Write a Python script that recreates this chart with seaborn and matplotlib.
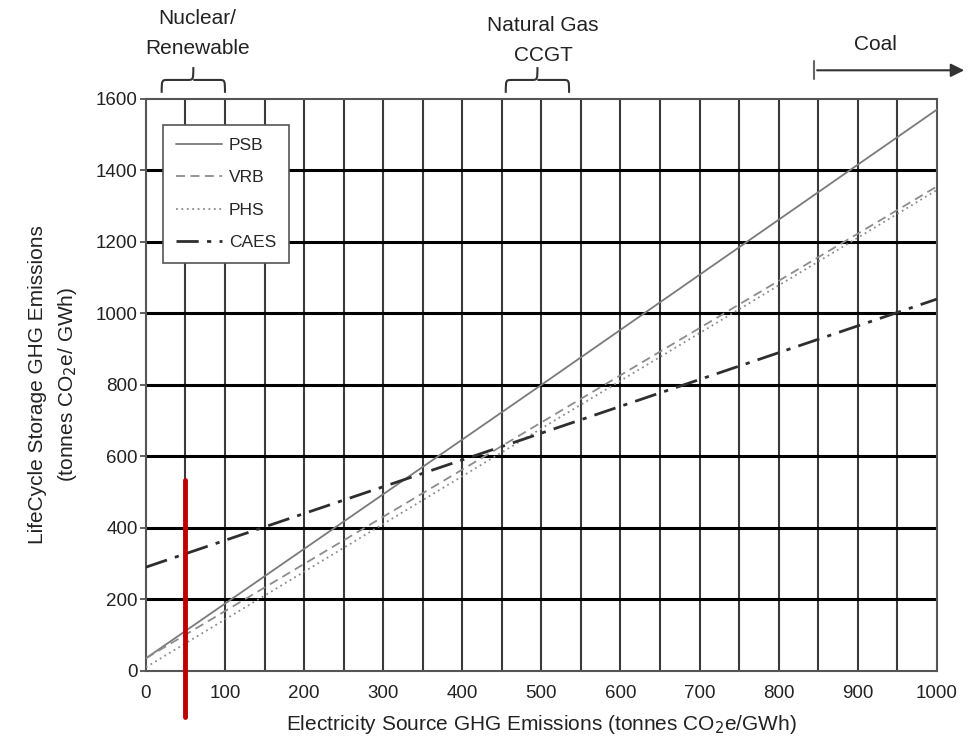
import seaborn as sns
import numpy as np
import matplotlib.pyplot as plt
import pandas as pd
from matplotlib.path import Path
from matplotlib.patches import PathPatch

# values
source_ghg = [0, 500, 1000]
psb = [35, 800, 1570]
vrb = [35, 695, 1355]
phs = [10, 678, 1345]
caes = [290, 665, 1040]
series_names = ["PSB", "VRB", "PHS", "CAES"]

# region markers above the plot
nuclear_span = [20, 100]
gas_span = [455, 535]
coal_start = 845
marker_x = 50
marker_top = 535

df = pd.DataFrame({"source": source_ghg * 4,
                   "storage": psb + vrb + phs + caes,
                   "tech": sum([[n] * len(source_ghg) for n in series_names], [])})

sns.set_style("white")
plt.rcParams['font.family'] = ['Liberation Sans', 'DejaVu Sans']

fig = plt.figure(figsize=(9.79, 7.38), dpi=100)
ax = fig.add_axes([0.149, 0.091, 0.808, 0.775])

colors = {"PSB": "#7a7a7a", "VRB": "#8c8c8c", "PHS": "#8c8c8c", "CAES": "#2e2e2e"}
dashes = {"PSB": "", "VRB": (5, 3), "PHS": (1, 2), "CAES": (8, 3, 1.5, 3)}
widths = {"PSB": 1.3, "VRB": 1.3, "PHS": 1.3, "CAES": 2.0}

for name in series_names:
    sub = df[df.tech == name]
    sns.lineplot(data=sub, x="source", y="storage", ax=ax, color=colors[name],
                 lw=widths[name], dashes=False, label=name, zorder=3)
    ln = ax.lines[-1]
    if dashes[name]:
        ln.set_dashes(dashes[name])

ax.set_xlim(0, 1000)
ax.set_ylim(0, 1600)
ax.set_xticks(range(0, 1001, 100))
ax.set_yticks(range(0, 1601, 200))
for x in range(50, 1000, 50):
    ax.axvline(x, color="#3a3a3a", lw=1.5, zorder=1)
for y in range(200, 1600, 200):
    ax.axhline(y, color="black", lw=2.2, zorder=1)
for s in ax.spines.values():
    s.set_color("#555555")
    s.set_linewidth(1.5)
ax.tick_params(axis="both", labelsize=13.5, length=4, width=1.2, color="#444444",
               labelcolor="#222222", direction="out", left=True, bottom=False)
ax.tick_params(axis="x", pad=6)
ax.tick_params(axis="y", pad=2)

ax.set_xlabel("Electricity Source GHG Emissions (tonnes CO$_2$e/GWh)", fontsize=15, color="#222222", labelpad=8)
ax.set_ylabel("LifeCycle Storage GHG Emissions\n(tonnes CO$_2$e/ GWh)", fontsize=15, color="#222222",
              labelpad=12, linespacing=1.5)

leg = ax.legend(loc="upper left", bbox_to_anchor=(0.0215, 0.955), borderaxespad=0, fontsize=12.5,
                frameon=True, fancybox=False, edgecolor="#555555", handlelength=2.65,
                handletextpad=0.4, labelspacing=1.0, borderpad=0.75)
leg.get_frame().set_linewidth(1.2)
leg.get_frame().set_alpha(1)
for h, name in zip(leg.get_lines(), series_names):
    if dashes[name]:
        h.set_dashes(dashes[name])


def brace(x0, x1, y, h):
    xm = (x0 + x1) / 2
    verts = [(x0, y), (x0, y + h), (x0, y + h), (x0 + 8, y + h),
             (xm - 8, y + h), (xm, y + h), (xm, y + h), (xm, y + 2 * h),
             (xm, y + h), (xm, y + h), (xm + 8, y + h),
             (x1 - 8, y + h), (x1, y + h), (x1, y + h), (x1, y)]
    codes = [Path.MOVETO, Path.CURVE4, Path.CURVE4, Path.CURVE4,
             Path.LINETO, Path.CURVE4, Path.CURVE4, Path.CURVE4,
             Path.MOVETO, Path.CURVE4, Path.CURVE4,
             Path.LINETO, Path.CURVE4, Path.CURVE4, Path.CURVE4]
    ax.add_patch(PathPatch(Path(verts, codes), fill=False, lw=1.5, ec="#333333", clip_on=False))


brace(nuclear_span[0], nuclear_span[1], 1617, 36)
brace(gas_span[0], gas_span[1], 1617, 36)
ax.text(sum(nuclear_span) / 2 + 5, 1782, "Nuclear/\nRenewable", ha="center", va="center",
        fontsize=15, color="#222222", linespacing=1.75)
ax.text(sum(gas_span) / 2 + 7, 1764, "Natural Gas\nCCGT", ha="center", va="center",
        fontsize=15, color="#222222", linespacing=1.7)
ax.annotate("", xy=(1038, 1680), xytext=(coal_start, 1680), annotation_clip=False,
            arrowprops=dict(arrowstyle="-|>", color="#333333", lw=1.5, mutation_scale=20))
ax.plot([coal_start, coal_start], [1655, 1705], color="#666666", lw=1.5, clip_on=False)
ax.text(922, 1752, "Coal", ha="center", va="center", fontsize=15, color="#222222")

# red marker line
ax.plot([marker_x, marker_x], [marker_top, -130], color="#c00000", lw=3.5, clip_on=False, zorder=5)

fig.savefig("out.png", dpi=100)
